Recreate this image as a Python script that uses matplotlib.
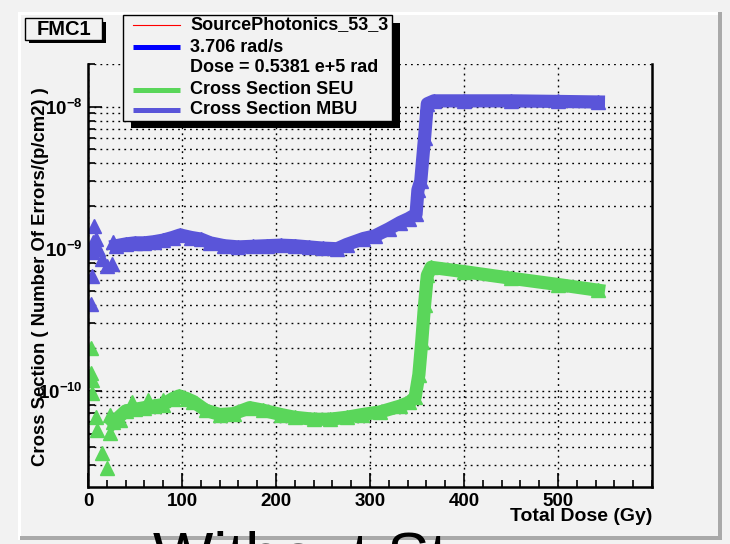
import matplotlib
matplotlib.use("Agg")
import matplotlib.pyplot as plt
from matplotlib.patches import Rectangle
from matplotlib.ticker import LogLocator, NullFormatter, MultipleLocator

plt.rcParams['font.family'] = ['Liberation Sans', 'DejaVu Sans']
plt.rcParams['mathtext.fontset'] = 'custom'
plt.rcParams['mathtext.bf'] = 'Liberation Sans:bold'
plt.rcParams['mathtext.rm'] = 'Liberation Sans:bold'

# --- data (dose in Gy, cross section in cm2) ---
mbu_scatter_x = [3, 4, 4, 5, 6, 9, 11, 15, 20, 25, 27]
mbu_scatter_y = [4.1e-10, 6.4e-10, 9.5e-10, 1.12e-9, 1.45e-9, 1.17e-9, 1.0e-9,
                 8.5e-10, 7.6e-10, 7.8e-10, 1.12e-9]
mbu_x = [30, 40, 50, 60, 70, 80, 90, 98, 110, 120, 130, 145, 160, 175, 190,
         205, 220, 235, 250, 265, 275, 293, 305, 320, 332, 341, 349, 351,
         354, 358, 361, 368, 400, 450, 500, 543]
mbu_y = [1.05e-9, 1.08e-9, 1.1e-9, 1.1e-9, 1.12e-9, 1.15e-9, 1.2e-9, 1.25e-9,
         1.2e-9, 1.17e-9, 1.1e-9, 1.05e-9, 1.03e-9, 1.04e-9, 1.05e-9,
         1.06e-9, 1.05e-9, 1.03e-9, 1.01e-9, 1.0e-9, 1.07e-9, 1.18e-9,
         1.23e-9, 1.38e-9, 1.53e-9, 1.63e-9, 1.75e-9, 2.6e-9,
         3.0e-9, 6.0e-9, 1.05e-8, 1.1e-8, 1.1e-8, 1.1e-8, 1.09e-8, 1.08e-8]

seu_scatter_x = [3, 3, 4, 4, 9, 10, 15, 20, 23, 23, 34, 47, 64, 80]
seu_scatter_y = [2.0e-10, 1.34e-10, 1.2e-10, 9.7e-11, 6.5e-11, 5.3e-11, 3.65e-11,
                 2.85e-11, 6.8e-11, 5.05e-11, 6.2e-11, 8.4e-11, 8.6e-11, 8.6e-11]
seu_x = [27, 40, 50, 60, 70, 80, 90, 97, 105, 112, 125, 140, 155, 172, 186,
         205, 220, 240, 257, 275, 292, 311, 332, 342, 348, 352, 355, 358,
         361, 365, 400, 450, 500, 543]
seu_y = [6.0e-11, 7.2e-11, 7.4e-11, 7.6e-11, 7.8e-11, 8.0e-11, 8.8e-11, 9.2e-11,
         8.8e-11, 8.4e-11, 7.3e-11, 6.8e-11, 6.9e-11, 7.6e-11, 7.3e-11,
         6.8e-11, 6.5e-11, 6.3e-11, 6.3e-11, 6.5e-11, 6.8e-11, 7.1e-11,
         7.8e-11, 8.3e-11, 9.0e-11, 1.3e-10, 2.2e-10, 4.0e-10,
         6.5e-10, 7.4e-10, 6.9e-10, 6.2e-10, 5.6e-10, 5.1e-10]

legend_labels = ["SourcePhotonics_53_3", "3.706 rad/s", "Dose = 0.5381 e+5 rad",
                 "Cross Section SEU", "Cross Section MBU"]

bg = '#f2f2f2'
mbu_col = '#5a55d9'
seu_col = '#5ad65a'

fig = plt.figure(figsize=(7.3, 5.44), dpi=100, facecolor=bg)
ax = fig.add_axes([88/730, 1 - 487/544, (652 - 88)/730, (487 - 64)/544])
ax.set_facecolor(bg)

ax.plot(seu_scatter_x, seu_scatter_y, '^', ms=9.5, color=seu_col, ls='none')
ax.plot(seu_x, seu_y, '-^', lw=9.5, ms=9.5, color=seu_col,
        solid_joinstyle='round')
ax.plot(mbu_scatter_x, mbu_scatter_y, '^', ms=9.5, color=mbu_col, ls='none')
ax.plot(mbu_x, mbu_y, '-^', lw=9.5, ms=9.5, color=mbu_col,
        solid_joinstyle='round')

ax.set_yscale('log')
ax.set_xlim(0, 600)
ax.set_ylim(2.1e-11, 2e-8)

ax.xaxis.set_major_locator(MultipleLocator(100))
ax.xaxis.set_minor_locator(MultipleLocator(20))
ax.set_xticks([0, 100, 200, 300, 400, 500])
ax.set_yticks([1e-10, 1e-9, 1e-8],
              labels=[r'$\mathbf{10^{-10}}$', r'$\mathbf{10^{-9}}$', r'$\mathbf{10^{-8}}$'])
ax.yaxis.set_minor_locator(LogLocator(base=10, subs=range(2, 10), numticks=20))
ax.yaxis.set_minor_formatter(NullFormatter())

for lab in ax.get_xticklabels():
    lab.set_fontweight('bold')
ax.tick_params(which='both', direction='in', top=False, right=False,
               labelsize=13.5, width=1.2, color='black')
ax.tick_params(which='major', length=10)
ax.tick_params(which='minor', length=5)
ax.tick_params(axis='x', pad=4)
ax.tick_params(axis='y', pad=4)

dots = (0, (1.3, 3))
ax.grid(True, which='major', axis='x', color='black', lw=1, ls=dots)
ax.grid(True, which='both', axis='y', color='black', lw=1, ls=dots)
ax.set_axisbelow(True)

ax.spines['top'].set_visible(False)
for s in ['left', 'bottom', 'right']:
    ax.spines[s].set_linewidth(1.8)
    ax.spines[s].set_color('black')

ax.set_xlabel("Total Dose (Gy)", fontsize=14, fontweight='bold')
ax.xaxis.set_label_coords(1.0, -0.07)
ax.xaxis.label.set_horizontalalignment('right')
ax.xaxis.label.set_verticalalignment('center')

# overlay in pixel coordinates for canvas frame, boxes and text
ov = fig.add_axes([0, 0, 1, 1], zorder=5)
ov.set_xlim(0, 730)
ov.set_ylim(544, 0)
ov.axis('off')
ov.patch.set_alpha(0)

# canvas bevel
ov.add_patch(Rectangle((18, 12), 702, 3, color='white', lw=0))
ov.add_patch(Rectangle((18, 12), 3, 528, color='white', lw=0))
ov.add_patch(Rectangle((718, 12), 4, 528, color='#a9a9a9', lw=0))
ov.add_patch(Rectangle((20, 536), 702, 4, color='#a9a9a9', lw=0))

ov.text(41, 277, "Cross Section ( Number Of Errors/(p/cm2) )", rotation=90,
        ha='center', va='center', fontsize=13.3, fontweight='bold')

# FMC1 box
ov.add_patch(Rectangle((29, 22), 77, 21, color='black', lw=0))
ov.add_patch(Rectangle((25, 18), 77, 22, facecolor=bg, edgecolor='black', lw=1))
ov.text(63.5, 29.5, "FMC1", ha='center', va='center', fontsize=14.5,
        fontweight='bold')

# legend box
ov.add_patch(Rectangle((131, 23), 269, 105, color='black', lw=0))
ov.add_patch(Rectangle((123, 15), 269, 106, facecolor=bg, edgecolor='black', lw=1))
row_y = [25, 47, 68, 90, 110]
ov.plot([133, 180], [row_y[0]] * 2, color='red', lw=0.8)
ov.plot([133, 180], [row_y[1]] * 2, color='#0000ff', lw=3.6, solid_capstyle='butt')
ov.plot([133, 180], [row_y[3]] * 2, color=seu_col, lw=3.6, solid_capstyle='butt')
ov.plot([133, 180], [row_y[4]] * 2, color=mbu_col, lw=3.6, solid_capstyle='butt')
for yy, lab in zip(row_y, legend_labels):
    ov.text(190, yy, lab, ha='left', va='center', fontsize=13, fontweight='bold')

# title text, mostly below the canvas
ov.text(153, 578, "Without St", ha='left', va='baseline', fontsize=46)

fig.savefig("out.png", dpi=100, facecolor=bg)
